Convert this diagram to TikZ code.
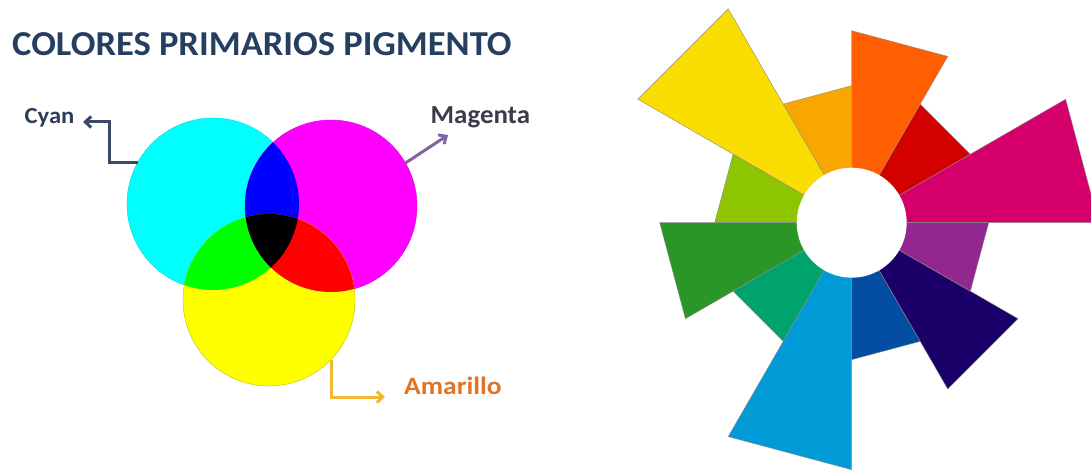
\documentclass[tikz,border=0pt]{standalone}
\usepackage{fontspec}
\setmainfont{Carlito}
\usetikzlibrary{arrows.meta,calc}
\definecolor{titlec}{HTML}{243F60}
\definecolor{cyantext}{HTML}{2B3D5B}
\definecolor{cyanline}{HTML}{3A4A66}
\definecolor{magtext}{HTML}{3D3A4C}
\definecolor{magline}{HTML}{8066A0}
\definecolor{amtext}{HTML}{DF7424}
\definecolor{amline}{HTML}{F2B730}
\definecolor{vC}{HTML}{00FFFF}
\definecolor{vM}{HTML}{FF00FF}
\definecolor{vY}{HTML}{FFFF00}
\definecolor{vB}{HTML}{0000FF}
\definecolor{vG}{HTML}{00FF00}
\definecolor{vR}{HTML}{FF0000}
\definecolor{wMag}{HTML}{D6006C}
\definecolor{wRed}{HTML}{D40000}
\definecolor{wOr}{HTML}{FF5F00}
\definecolor{wOY}{HTML}{F9A600}
\definecolor{wYel}{HTML}{F9DD00}
\definecolor{wYG}{HTML}{8DC600}
\definecolor{wGr}{HTML}{2A9628}
\definecolor{wTeal}{HTML}{00A36C}
\definecolor{wLB}{HTML}{009AD6}
\definecolor{wBlue}{HTML}{034EA2}
\definecolor{wInd}{HTML}{1B0069}
\definecolor{wPur}{HTML}{92278F}
\begin{document}
\begin{tikzpicture}[x=1pt,y=-1pt,
  vcirc/.style={circle, minimum size=172pt, inner sep=0pt, line width=0.4pt},
  lbl/.style={inner sep=0pt, anchor=base west},
  arr/.style={line width=3pt, -{Straight Barb[length=6pt,width=11pt]}},
  wedge/.style={draw=black!45, line width=0.4pt}]
\useasboundingbox (0,0) rectangle (1091,470);
\clip (0,0) rectangle (1091,470);

\node[lbl, text=titlec, font=\bfseries\fontsize{35}{35}\selectfont] (title) at (12,55.7) {\scalebox{1.044}[1]{COLORES PRIMARIOS PIGMENTO}};

% Venn circles
\node[vcirc, fill=vC, draw=vC!85!black] (C) at (213,204) {};
\node[vcirc, fill=vM, draw=vM!85!black] (M) at (331,206) {};
\node[vcirc, fill=vY, draw=vY!75!black] (Y) at (269,300) {};
\begin{scope}
  \clip (C.center) circle (86);
  \fill[vB] (M.center) circle (86);
\end{scope}
\begin{scope}
  \clip (C.center) circle (86);
  \fill[vG] (Y.center) circle (86);
\end{scope}
\begin{scope}
  \clip (M.center) circle (86);
  \fill[vR] (Y.center) circle (86);
\end{scope}
\begin{scope}
  \clip (C.center) circle (86);
  \clip (M.center) circle (86);
  \fill[black] (Y.center) circle (86);
\end{scope}

% labels and connectors
\node[lbl, text=cyantext, font=\bfseries\fontsize{23}{23}\selectfont] (cyanlbl) at (24.5,124) {\scalebox{1.07}[1]{Cyan}};
\coordinate (cyantip) at (83,122);
\draw[arr, draw=cyanline] (C.151) -- ++(-28,0) |- (cyantip);

\node[lbl, text=magtext, font=\bfseries\fontsize{26}{26}\selectfont] (maglbl) at (430.5,123.3) {\scalebox{1.035}[1]{Magenta}};
\coordinate (magtip) at (448,135);
\draw[arr, draw=magline] (M.30) -- (magtip);

\node[lbl, text=amtext, font=\bfseries\fontsize{25}{25}\selectfont] (amlbl) at (404,394.3) {\scalebox{1.1}[1]{Amarillo}};
\coordinate (amtip) at (385,397);
\draw[arr, draw=amline] (Y.-44) |- (amtip);

% color wheel
\begin{scope}[shift={(851.7,222.7)}, yscale=-1]
  \foreach \a/\r/\c in {0/247/wMag, 30/137/wRed, 60/192/wOr, 90/137/wOY, 120/247/wYel, 150/137/wYG, 180/192/wGr, 210/137/wTeal, 240/247/wLB, 270/137/wBlue, 300/192/wInd, 330/137/wPur}
    \filldraw[fill=\c, wedge] (0,0) -- (\a:\r) -- ({\a+30}:\r) -- cycle;
  \fill[white] (0,0) circle (55);
\end{scope}
\end{tikzpicture}
\end{document}
